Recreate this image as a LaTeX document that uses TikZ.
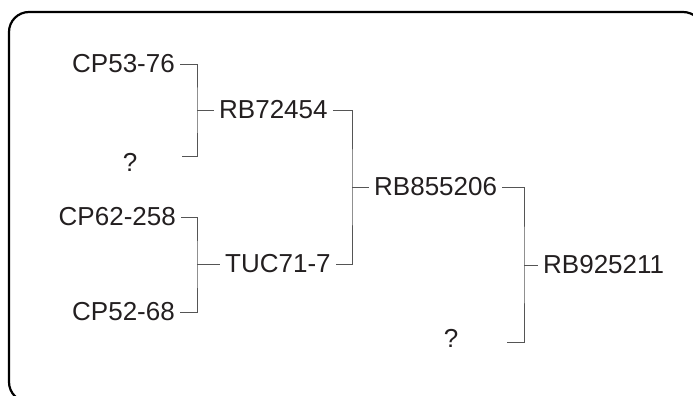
\documentclass[tikz,border=0pt]{standalone}
\usepackage{fontspec}
\setmainfont{Liberation Sans}
\usetikzlibrary{calc}
\definecolor{inkgray}{HTML}{231F20}
\definecolor{linkgray}{HTML}{555555}
\tikzset{
    taxon/.style={font=\fontsize{26}{30}\selectfont, text=inkgray, inner xsep=5pt, inner ysep=0pt},
    link/.style={draw=linkgray, line width=0.9pt},
    frame/.style={draw=black, line width=2.2pt, rounded corners=20pt}
}
\begin{document}
\begin{tikzpicture}[x=1pt,y=-1pt]
        \useasboundingbox (0,0) rectangle (693,396);
        \draw[frame] (9,12) rectangle (703,402);
        % first generation
        \node[taxon,anchor=east] (cp53) at (180,64) {CP53-76};
        \node[taxon] (q1) at (130,162) {?};
        \node[taxon,anchor=east] (cp62) at (181,217) {CP62-258};
        \node[taxon,anchor=east] (cp52) at (180,312) {CP52-68};
        % second generation
        \node[taxon,anchor=west] (rb72) at (214,110) {RB72454};
        \node[taxon,anchor=west] (tuc) at (220,264) {TUC71-7};
        % third and fourth
        \node[taxon,anchor=west] (rb85) at (369,187) {RB855206};
        \node[taxon] (q2) at (451,338) {?};
        \node[taxon,anchor=west] (rb92) at (538,265) {RB925211};
        % junctions
        \coordinate (j1) at (197,110);
        \coordinate (j2) at (197,264);
        \coordinate (j3) at (352,187);
        \coordinate (j4) at (524,265);
        \coordinate (q1e) at (182,156);
        \coordinate (q2e) at (507,342);
        \draw[link] (cp53.east) -| (j1) |- (q1e);
        \draw[link] (j1) -- (rb72.west);
        \draw[link] (cp62.east) -| (j2) |- (cp52.east);
        \draw[link] (j2) -- (tuc.west);
        \draw[link] (rb72.east) -| (j3) |- (tuc.east);
        \draw[link] (j3) -- (rb85.west);
        \draw[link] (rb85.east) -| (j4) |- (q2e);
        \draw[link] (j4) -- (rb92.west);
\end{tikzpicture}
\end{document}
